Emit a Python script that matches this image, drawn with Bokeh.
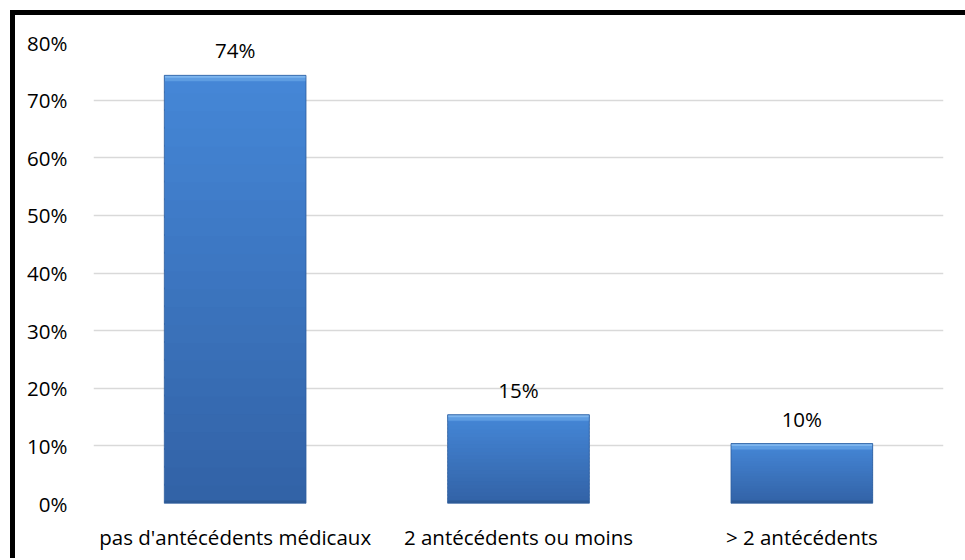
from bokeh.plotting import figure
from bokeh.models import (ColumnDataSource, LabelSet, SingleIntervalTicker,
                          NumeralTickFormatter, Range1d)
from bokeh.core.properties import value
from bokeh.embed import file_html
from bokeh.resources import INLINE

# ---- data ----
categories = ["pas d'antécédents médicaux", "2 antécédents ou moins", "> 2 antécédents"]
values = [0.743, 0.154, 0.104]
value_labels = ["74%", "15%", "10%"]

FONT = "Open Sans"
FS = "20.5px"
W, H = 950, 543

p = figure(x_range=categories, y_range=Range1d(0, 0.8), width=W, height=H,
           output_backend="svg", toolbar_location=None,
           min_border_left=78, min_border_right=22, min_border_top=27, min_border_bottom=55)
# chart-area border (only top and left edges are in view)
p.styles = {"margin-left": "15px", "margin-top": "15px",
            "box-shadow": "-5px 0 0 0 black, 0 -5px 0 0 black, -5px -5px 0 0 black"}
p.outline_line_color = None
p.background_fill_color = "white"
p.border_fill_color = "white"

# grid
p.xgrid.grid_line_color = None
p.ygrid.grid_line_color = "#D9D9D9"
p.ygrid.grid_line_width = 1.5
p.ygrid.ticker = SingleIntervalTicker(interval=0.1)

# axes
p.yaxis.ticker = SingleIntervalTicker(interval=0.1)
p.yaxis.formatter = NumeralTickFormatter(format="0%")
for ax in (p.xaxis[0], p.yaxis[0]):
    ax.axis_line_color = None
    ax.major_tick_line_color = None
    ax.minor_tick_line_color = None
    ax.major_tick_out = 0
    ax.major_tick_in = 0
    ax.major_label_text_font = FONT
    ax.major_label_text_font_size = FS
    ax.major_label_text_color = "black"
p.yaxis.major_label_standoff = 22
p.xaxis.major_label_standoff = 19

# bars: vertical gradient built from overlapping slices of each bar
px = 0.8 / 461.0  # one pixel in data units (style helper)
n = 24
top_rgb = (0x45, 0x87, 0xD7)
bot_rgb = (0x32, 0x62, 0xA6)
xs, bots, tops, cols = [], [], [], []
for c, v in zip(categories, values):
    for i in range(n):
        f = (i + 0.5) / n
        r = [int(round(b + (t - b) * f)) for t, b in zip(top_rgb, bot_rgb)]
        xs.append(c)
        bots.append(v * i / n)
        tops.append(min(v, v * (i + 1) / n + 2 * px))
        cols.append("#%02x%02x%02x" % tuple(r))
p.vbar(x=xs, bottom=bots, top=tops, width=0.5, fill_color=cols, line_color=None)

# bevel: light top edge, dark bottom edge
p.vbar(x=categories, bottom=[v - 6 * px for v in values], top=values, width=0.5,
       fill_color="#5E9DE2", line_color=None)
p.vbar(x=categories, bottom=[v - 2.5 * px for v in values], top=values, width=0.5,
       fill_color="#7DB5EE", line_color=None)
p.vbar(x=categories, bottom=[0] * 3, top=[3 * px] * 3, width=0.5,
       fill_color="#2D5A96", line_color=None)
p.vbar(x=categories, bottom=[0] * 3, top=values, width=0.5,
       fill_color=None, line_color="#2E5E9E", line_width=1, line_alpha=0.8)

# value labels
src = ColumnDataSource(dict(x=categories, y=values, t=value_labels))
p.add_layout(LabelSet(x="x", y="y", text="t", source=src, y_offset=17,
                      text_align="center", text_baseline="alphabetic",
                      text_font=value(FONT), text_font_size=value(FS), text_color="black"))

open("out.html", "w").write(file_html(p, INLINE))
